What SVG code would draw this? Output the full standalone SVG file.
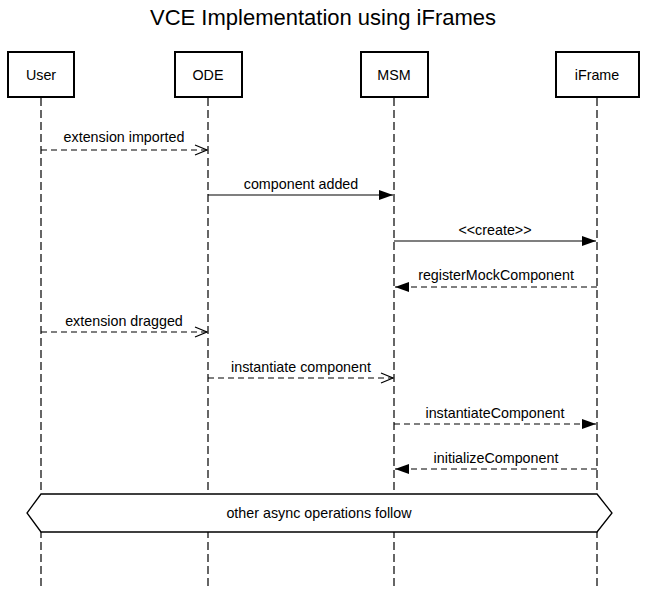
<svg xmlns="http://www.w3.org/2000/svg" width="645" height="589" viewBox="0 0 645 589">
<style>
text{font-family:"Liberation Sans",Arial,sans-serif;fill:#000}
.title{font-size:22px;text-anchor:middle}
.lbl{font-size:14.3px;text-anchor:middle}
.box{fill:#fff;stroke:#000;stroke-width:2}
.life{stroke:#000;stroke-width:1.2;stroke-dasharray:8,4;fill:none}
.sync{stroke:#000;stroke-width:1.2;fill:none}
.async{stroke:#000;stroke-width:1.2;stroke-dasharray:6,4;fill:none}
</style>
<defs>
<marker id="filled" viewBox="0 0 14 10" refX="14" refY="5" markerWidth="14" markerHeight="10" markerUnits="userSpaceOnUse" orient="auto">
<path d="M0,0 L14,5 L0,10 Z" fill="#000"/>
</marker>
<marker id="open" viewBox="0 0 14 12" refX="13" refY="6" markerWidth="14" markerHeight="12" markerUnits="userSpaceOnUse" orient="auto">
<path d="M1,1 L13,6 L1,11" fill="none" stroke="#000" stroke-width="1.2"/>
</marker>
</defs>
<rect width="645" height="589" fill="#fff"/>
<text class="title" x="323" y="25">VCE Implementation using iFrames</text>
<g id="lifelines">
<line class="life" x1="41" y1="98" x2="41" y2="589"/>
<line class="life" x1="208" y1="98" x2="208" y2="589"/>
<line class="life" x1="394" y1="98" x2="394" y2="589"/>
<line class="life" x1="597" y1="98" x2="597" y2="589"/>
</g>
<g id="node-user"><rect class="box" x="8" y="52" width="66" height="45"/><text class="lbl" x="41" y="80">User</text></g>
<g id="node-ode"><rect class="box" x="175" y="52" width="67" height="45"/><text class="lbl" x="208" y="80">ODE</text></g>
<g id="node-msm"><rect class="box" x="361" y="52" width="67" height="45"/><text class="lbl" x="394" y="80">MSM</text></g>
<g id="node-iframe"><rect class="box" x="556" y="52" width="83" height="45"/><text class="lbl" x="597" y="80">iFrame</text></g>
<g id="connectors">
<line class="async" x1="41" y1="150" x2="207" y2="150" marker-end="url(#open)"/>
<text class="lbl" x="124" y="142">extension imported</text>
<line class="sync" x1="208" y1="195" x2="393" y2="195" marker-end="url(#filled)"/>
<text class="lbl" x="301" y="189">component added</text>
<line class="sync" x1="394" y1="241" x2="596" y2="241" marker-end="url(#filled)"/>
<text class="lbl" x="495" y="235">&lt;&lt;create&gt;&gt;</text>
<line class="async" x1="597" y1="287" x2="395" y2="287" marker-end="url(#filled)"/>
<text class="lbl" x="496" y="280">registerMockComponent</text>
<line class="async" x1="41" y1="332" x2="207" y2="332" marker-end="url(#open)"/>
<text class="lbl" x="124" y="326">extension dragged</text>
<line class="async" x1="208" y1="378" x2="393" y2="378" marker-end="url(#open)"/>
<text class="lbl" x="301" y="372">instantiate component</text>
<line class="async" x1="394" y1="424" x2="596" y2="424" marker-end="url(#filled)"/>
<text class="lbl" x="495" y="418">instantiateComponent</text>
<line class="async" x1="597" y1="469" x2="395" y2="469" marker-end="url(#filled)"/>
<text class="lbl" x="496" y="463">initializeComponent</text>
</g>
<g id="async-note">
<path d="M41,494 L597,494 L612,513 L597,532 L41,532 L27,513 Z" fill="#fff" stroke="#000" stroke-width="1.3"/>
<text class="lbl" x="319" y="518">other async operations follow</text>
</g>
</svg>
